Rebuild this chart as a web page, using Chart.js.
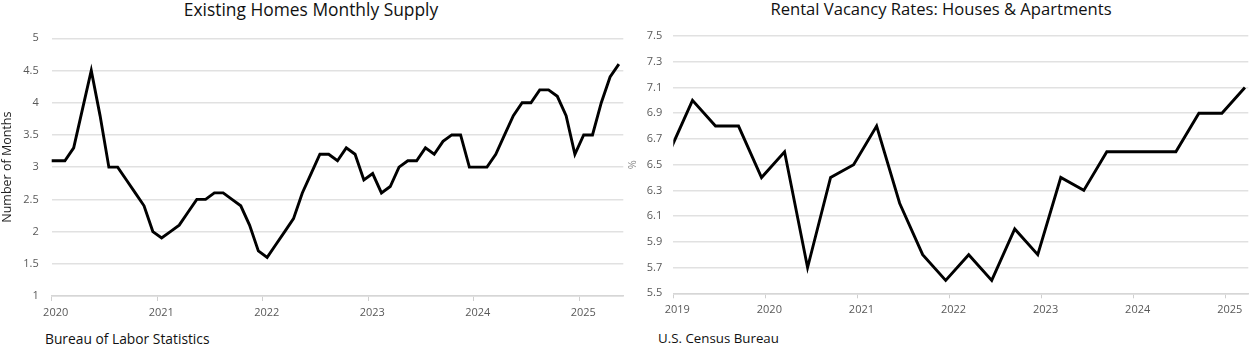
<!DOCTYPE html>
<html><head><meta charset="utf-8">
<script src="https://cdn.jsdelivr.net/npm/chart.js@4.4.1/dist/chart.umd.min.js"></script>
<style>
html,body{margin:0;padding:0;background:#fff;width:1256px;height:348px;overflow:hidden;font-family:'Open Sans',sans-serif;}
.cv{position:absolute;top:0;height:348px;}
.title{position:absolute;top:-3px;color:#111;white-space:nowrap;transform:translateX(-50%);}
.src{position:absolute;top:329px;color:#111;white-space:nowrap;}
</style></head><body>
<div class="title" style="left:311px;font-size:17.4px">Existing Homes Monthly Supply</div>
<div class="title" style="left:941px;font-size:16.6px">Rental Vacancy Rates: Houses &amp; Apartments</div>
<div class="src" style="left:45px;font-size:13.8px">Bureau of Labor Statistics</div>
<div class="src" style="left:658px;font-size:13.3px">U.S. Census Bureau</div>
<div class="cv" style="left:0;width:628px"><canvas id="c1" width="628" height="348"></canvas></div>
<div class="cv" style="left:626px;width:630px"><canvas id="c2" width="630" height="348"></canvas></div>
<script>
// ---- Existing Homes Monthly Supply (monthly, Dec 2019 - May 2025) ----
const supplyMonths = [
 '2019-12',
 '2020-01','2020-02','2020-03','2020-04','2020-05','2020-06','2020-07','2020-08','2020-09','2020-10','2020-11','2020-12',
 '2021-01','2021-02','2021-03','2021-04','2021-05','2021-06','2021-07','2021-08','2021-09','2021-10','2021-11','2021-12',
 '2022-01','2022-02','2022-03','2022-04','2022-05','2022-06','2022-07','2022-08','2022-09','2022-10','2022-11','2022-12',
 '2023-01','2023-02','2023-03','2023-04','2023-05','2023-06','2023-07','2023-08','2023-09','2023-10','2023-11','2023-12',
 '2024-01','2024-02','2024-03','2024-04','2024-05','2024-06','2024-07','2024-08','2024-09','2024-10','2024-11','2024-12',
 '2025-01','2025-02','2025-03','2025-04','2025-05'
];
const supplyValues = [
 3.1,
 3.1,3.1,3.3,3.9,4.5,3.8,3.0,3.0,2.8,2.6,2.4,2.0,
 1.9,2.0,2.1,2.3,2.5,2.5,2.6,2.6,2.5,2.4,2.1,1.7,
 1.6,1.8,2.0,2.2,2.6,2.9,3.2,3.2,3.1,3.3,3.2,2.8,
 2.9,2.6,2.7,3.0,3.1,3.1,3.3,3.2,3.4,3.5,3.5,3.0,
 3.0,3.0,3.2,3.5,3.8,4.0,4.0,4.2,4.2,4.1,3.8,3.2,
 3.5,3.5,4.0,4.4,4.6
];
const supplyYearTicks = [2020,2021,2022,2023,2024,2025];
const supplyValueTicks = [1,1.5,2,2.5,3,3.5,4,4.5,5];

// ---- Rental Vacancy Rates (quarterly, 2018Q4 - 2025Q1) ----
const vacancyQuarters = [
 '2018Q4',
 '2019Q1','2019Q2','2019Q3','2019Q4',
 '2020Q1','2020Q2','2020Q3','2020Q4',
 '2021Q1','2021Q2','2021Q3','2021Q4',
 '2022Q1','2022Q2','2022Q3','2022Q4',
 '2023Q1','2023Q2','2023Q3','2023Q4',
 '2024Q1','2024Q2','2024Q3','2024Q4',
 '2025Q1'
];
const vacancyValues = [
 6.6,
 7.0,6.8,6.8,6.4,
 6.6,5.7,6.4,6.5,
 6.8,6.2,5.8,5.6,
 5.8,5.6,6.0,5.8,
 6.4,6.3,6.6,6.6,
 6.6,6.6,6.9,6.9,
 7.1
];
const vacancyYearTicks = [2019,2020,2021,2022,2023,2024,2025];
const vacancyValueTicks = [5.5,5.7,5.9,6.1,6.3,6.5,6.7,6.9,7.1,7.3,7.5];

// date helpers: monthly points at mid-month, quarterly points at mid of last month of quarter
function monthToYear(s){ const [y,m]=s.split('-').map(Number); return y + (m-0.5)/12; }
function quarterToYear(s){ const y=+s.slice(0,4), q=+s.slice(5); return y + (q*3-0.5)/12; }

const FONT = "'Open Sans', sans-serif";
const GRID = '#e1e1e1';
const TICKC = '#595959';

function makeChart(id, pts, xTicks, yTicks, opts){
  return new Chart(document.getElementById(id), {
    type:'line',
    data:{datasets:[{data:pts, borderColor:'#000', borderWidth:2.9, pointRadius:0, tension:0,
      fill:false, clip:{left:0,right:6,top:6,bottom:6}, borderJoinStyle:'miter'}]},
    options:{
      responsive:false, animation:false, events:[],
      layout:{padding:opts.padding},
      plugins:{legend:{display:false}, tooltip:{enabled:false}, title:{display:false}},
      scales:{
        x:{type:'linear', min:opts.xmin, max:opts.xmax,
          afterBuildTicks:s=>{ s.ticks = xTicks.map(v=>({value:v})); },
          afterFit:s=>{ s.height = opts.xHeight; },
          grid:{drawOnChartArea:false, drawTicks:true, tickLength:5, color:'#cfcfcf', lineWidth:1},
          border:{display:true, color:'#d6d6d6', width:1.5},
          ticks:{color:TICKC, font:{family:FONT,size:11}, padding:5, labelOffset:4, maxRotation:0,
            autoSkip:false, callback:v=>String(v)}
        },
        y:{type:'linear', min:yTicks[0], max:yTicks[yTicks.length-1],
          afterBuildTicks:s=>{ s.ticks = yTicks.map(v=>({value:v})); },
          afterFit:s=>{ s.width = opts.yWidth; },
          grid:{color:GRID, lineWidth:1.5, drawTicks:false},
          border:{display:false},
          ticks:{color:TICKC, font:{family:FONT,size:11}, padding:opts.yPad, autoSkip:false,
            callback:v=>opts.fmt(v)},
          title:{display:true, text:opts.yTitle, color:opts.yTitleColor, font:{family:FONT,size:opts.yTitleSize}, padding:0}
        }
      }
    }
  });
}

makeChart('c1',
  supplyMonths.map((m,i)=>({x:monthToYear(m), y:supplyValues[i]})),
  supplyYearTicks, supplyValueTicks,
  {xmin:2020, xmax:2025.417, padding:{left:0,right:4.7,top:38.3,bottom:0},
   xHeight:52, yWidth:51.7, yPad:13, fmt:v=>String(v), yTitle:'Number of Months', yTitleColor:'#222', yTitleSize:12.5});

makeChart('c2',
  vacancyQuarters.map((q,i)=>({x:quarterToYear(q), y:vacancyValues[i]})),
  vacancyYearTicks, vacancyValueTicks,
  {xmin:2019, xmax:2025.245, padding:{left:0,right:7.7,top:36,bottom:0},
   xHeight:54.7, yWidth:47.3, yPad:11, fmt:v=>v.toFixed(1), yTitle:'%', yTitleColor:'#8a8a8a', yTitleSize:11});
</script>
</body></html>
